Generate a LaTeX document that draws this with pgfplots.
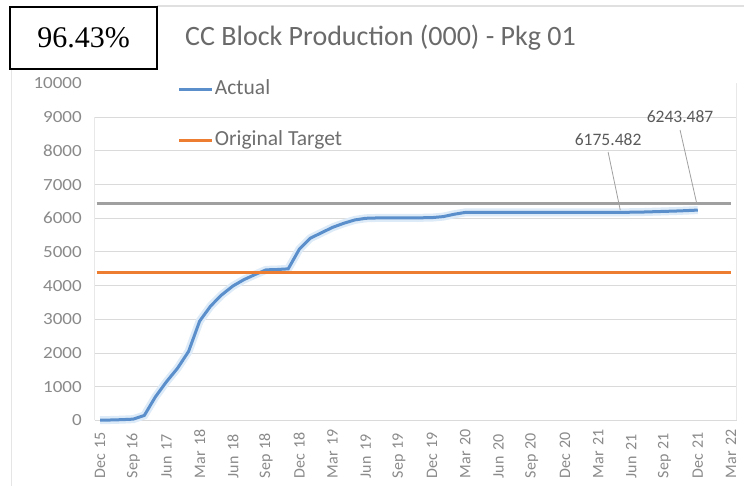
\documentclass[border=0pt]{standalone}
\usepackage{pgfplots}
\pgfplotsset{compat=1.18}
\usepackage{pgfplotstable}
\usepackage{fontspec}
\setmainfont{Carlito}
\newfontfamily\timesfont{Liberation Serif}
\definecolor{xlblue}{HTML}{5A8FCB}
\definecolor{xlglow}{HTML}{DDEBF8}
\definecolor{xlorange}{HTML}{ED7D31}
\definecolor{xlgray}{HTML}{A0A0A0}
\definecolor{gridgray}{HTML}{DADADA}
\definecolor{titlegray}{HTML}{6A6A6A}
\definecolor{tickgray}{HTML}{8A8A8A}
\definecolor{leggray}{HTML}{6E6E6E}
\definecolor{anngray}{HTML}{5A5A5A}

\pgfplotstableread{
i v
0 10
1 15
2 25
3 40
4 150
5 700
6 1150
7 1550
8 2050
9 2950
10 3400
11 3730
12 3990
13 4180
14 4330
15 4470
16 4480
17 4500
18 5080
19 5410
20 5570
21 5730
22 5850
23 5950
24 6000
25 6010
26 6010
27 6012
28 6015
29 6015
30 6020
31 6050
32 6120
33 6175
34 6175.482
35 6175.482
36 6175.482
37 6175.482
38 6175.482
39 6175.482
40 6175.482
41 6175.482
42 6175.482
43 6175.482
44 6175.482
45 6175.482
46 6175.482
47 6175.482
48 6180
49 6185
50 6195
51 6205
52 6215
53 6228
54 6243.487
}\actual

\begin{document}
\begin{tikzpicture}[x=1bp,y=1bp]
\useasboundingbox (0,0) rectangle (744,486);
\fill[white] (0,0) rectangle (744,486);
\draw[black!12, line width=1.5bp] (157,480) -- (744,480);
\draw[black!10, line width=0.8bp] (11,417) -- (11,0);
\draw[line width=1.2bp] (10,479) rectangle (157,417);
\node[font=\timesfont\fontsize{30bp}{32bp}\selectfont, inner sep=0pt] at (83.5,448) {96.43\%};
\node[anchor=west, text=titlegray, font=\fontsize{28bp}{30bp}\selectfont, inner sep=0pt] at (185,448) {CC Block Production (000) - Pkg 01};

\begin{axis}[
  at={(94.5bp,65.5bp)}, anchor=south west,
  scale only axis, width=642bp, height=337bp,
  xmin=-0.5, xmax=57.5, ymin=0, ymax=10000,
  axis line style={draw=none},
  major tick length=0pt,
  xtick={0,3,...,57},
  xticklabels={Dec 15,Sep 16,Jun 17,Mar 18,Jun 18,Sep 18,Dec 18,Mar 19,Jun 19,Sep 19,Dec 19,Mar 20,Jun 20,Sep 20,Dec 20,Mar 21,Jun 21,Sep 21,Dec 21,Mar 22},
  xticklabel style={rotate=90, anchor=east, text width=50bp, align=left, inner sep=0pt,
    font=\fontsize{16bp}{18bp}\selectfont, text=tickgray},
  xticklabel shift=7.5bp,
  ytick={0,1000,...,10000},
  yticklabel style={font=\fontsize{17bp}{19bp}\selectfont, text=tickgray, inner sep=0pt, xscale=1.12},
  yticklabel shift=12.5bp,
  scaled y ticks=false,
  /pgf/number format/assume math mode=true,
  /pgf/number format/1000 sep={},
  extra y ticks={1000,2000,...,9000},
  extra y tick labels={},
  extra y tick style={grid=major, major grid style={gridgray, line width=1bp}},
  clip=false,
  legend style={draw=none, fill=none, at={(0.125,1.024)}, anchor=north west,
    font=\fontsize{21.5bp}{23bp}\selectfont, text=leggray, row sep=28bp, column sep=0bp,
    nodes={inner sep=1bp, text height=16bp, text depth=5bp}},
  legend cell align=left,
  legend image code/.code={\draw[#1] (0bp,0bp) -- (33bp,0bp);},
]
\draw[gridgray, line width=1bp] (rel axis cs:0,0) -- (rel axis cs:1,0);
\draw[black!9, line width=1bp] (rel axis cs:0,0) -- (rel axis cs:0,0.9);
\draw[black!9, line width=1bp] (rel axis cs:1,0) -- (rel axis cs:1,1);
\addplot[xlglow, line width=8bp, forget plot] table[x=i, y=v] {\actual};
\addplot[xlblue, line width=3bp] table[x=i, y=v] {\actual};
\addlegendentry{Actual}
\addplot[xlorange, line width=3bp] coordinates {(-0.3,4400) (57,4400)};
\addlegendentry{Original Target}
\addplot[xlgray, line width=3bp, forget plot] coordinates {(-0.3,6450) (57,6450)};
\draw[xlgray, line width=0.8bp] (axis cs:45.9,7967) -- (axis cs:47,6240);
\draw[xlgray, line width=0.8bp] (axis cs:52.4,8620) -- (axis cs:53.9,6450);
\node[font=\fontsize{17.5bp}{19bp}\selectfont, text=anngray, inner sep=0pt] at (axis cs:45.9,8323) {6175.482};
\node[font=\fontsize{17.5bp}{19bp}\selectfont, text=anngray, inner sep=0pt] at (axis cs:52.4,9006) {6243.487};
\end{axis}
\end{tikzpicture}
\end{document}
